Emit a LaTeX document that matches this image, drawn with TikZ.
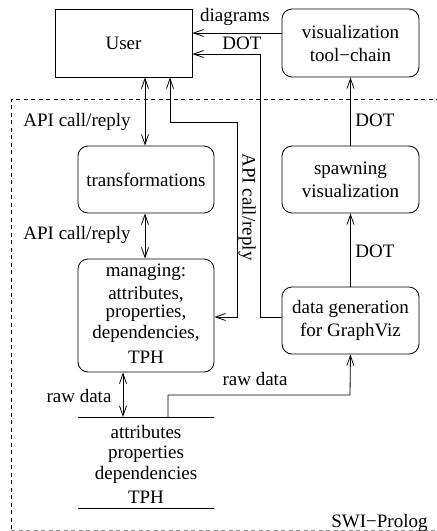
\documentclass[tikz,border=0pt]{standalone}
\usepackage{fontspec}
\setmainfont{Liberation Serif}
\usetikzlibrary{arrows.meta}
\begin{document}
\begin{tikzpicture}[x=1pt,y=-1pt,line width=0.8pt,
  every node/.style={font=\fontsize{19}{23}\selectfont},
  sqbox/.style={draw,rectangle,minimum width=137pt,minimum height=68pt,inner sep=0pt},
  rbox/.style={draw,rectangle,rounded corners=10pt,minimum width=137pt,inner sep=0pt,align=center},
  txt/.style={inner sep=0pt,text height=13pt,text depth=4pt},
  lbl/.style={inner sep=0pt,text height=13pt,text depth=4pt},
  tip/.style={-{Straight Barb[length=10pt,width=7pt]}},
  dtip/.style={{Straight Barb[length=10pt,width=7pt]}-{Straight Barb[length=10pt,width=7pt]}},
  frame/.style={dash pattern=on 4pt off 3.5pt,line width=0.7pt}]
\useasboundingbox (0,0) rectangle (437,531);

% SWI-Prolog region
\draw[frame] (440,99) -- (11,99) -- (11,530);
\draw[frame,black!45] (11,530) -- (440,530);
\node[lbl,anchor=east] at (428,523) {SWI−Prolog};

% boxes
\node[sqbox] (user) at (123.5,43) {User};
\node[rbox,minimum height=68pt] (vis) at (350.5,43) {visualization\\tool−chain};
\node[rbox,minimum width=136pt,minimum height=67pt] (trans) at (146,179.5) {transformations};
\node[rbox,minimum height=67pt] (spawn) at (350.5,179.5) {spawning\\visualization};
\node[rbox,minimum width=136pt,minimum height=113pt] (manage) at (146,315.5) {};
\node[rbox,minimum height=67pt] (datagen) at (350.5,320.5) {data generation\\for GraphViz};

% text inside the managing box
\node[txt] at (146,272) {managing:};
\node[txt] at (146,295) {attributes,};
\node[txt] at (146,313) {properties,};
\node[txt] at (146,334) {dependencies,};
\node[txt] at (146,359) {TPH};

% data store
\coordinate (stTL) at (78,417);
\coordinate (stTR) at (214,417);
\coordinate (stBL) at (78,508);
\coordinate (stBR) at (214,508);
\draw (stTL) -- (stTR);
\draw (stBL) -- (stBR);
\node[txt] at (146,434) {attributes};
\node[txt] at (146,454) {properties};
\node[txt] at (146,475) {dependencies};
\node[txt] at (146,499) {TPH};

% API calls
\draw[dtip] (user.south -| 145,0) -- (trans.north -| 145,0);
\node[lbl] at (77,122) {API call/reply};
\draw[dtip] (trans.south -| 145,0) -- (manage.north -| 145,0);
\node[lbl] at (77,235) {API call/reply};
\draw[dtip] (manage.east |- 0,317) -- (237,317) -- (237,122) -- (170,122) -- (user.south -| 170,0);
\node[lbl,rotate=-90] at (247,207) {API call/reply};

% DOT output to the user
\draw[tip] (datagen.west |- 0,317) -- (260,317) -- (260,54) -- (user.east |- 0,54);
\node[lbl] at (242,45) {DOT};
\draw[tip] (vis.west |- 0,33) -- (user.east |- 0,33);
\node[lbl] at (235,17) {diagrams};

% visualization pipeline
\draw[tip] (spawn.north) -- (vis.south);
\node[lbl] at (375,122) {DOT};
\draw[tip] (datagen.north) -- (spawn.south);
\node[lbl] at (375,253) {DOT};

% raw data
\draw[dtip] (manage.south -| 123,0) -- (stTL -| 123,0);
\node[lbl] at (79,398) {raw data};
\draw[tip] (stTL -| 168,0) -- (168,395) -- (350,395) -- (datagen.south);
\node[lbl] at (255,381) {raw data};
\end{tikzpicture}
\end{document}
